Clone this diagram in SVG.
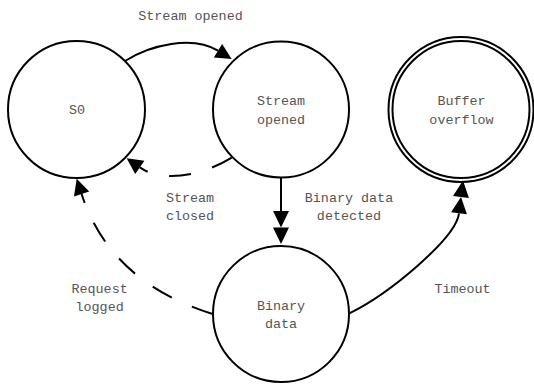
<svg xmlns="http://www.w3.org/2000/svg" width="534" height="384" viewBox="0 0 534 384">
<style>
.node circle{fill:none;stroke:#000;stroke-width:2}
text{font-family:"Liberation Mono","Courier New",monospace;font-size:13.4px;fill:#555;text-anchor:middle}
.edge{fill:none;stroke:#000;stroke-width:2}
.dash{stroke-dasharray:22 22}
</style>
<defs>
<marker id="arr" markerUnits="userSpaceOnUse" markerWidth="20" markerHeight="20" refX="0" refY="0" orient="auto" overflow="visible">
<path d="M0,-8 L16,0 L0,8 Z" fill="#000" stroke="none"/>
</marker>
<marker id="arr2" markerUnits="userSpaceOnUse" markerWidth="36" markerHeight="20" refX="0" refY="0" orient="auto" overflow="visible">
<path d="M0,-8 L16.5,0 L0,8 Z M16.5,-8 L33,0 L16.5,8 Z" fill="#000" stroke="none"/>
</marker>
</defs>
<rect width="534" height="384" fill="#fff"/>
<g id="edges">
<path class="edge" d="M125,61 C150.2,44.8 192.5,35.1 218,50.7" marker-end="url(#arr)"/>
<text x="190.5" y="20">Stream opened</text>
<path class="edge dash" d="M231.7,157.7 C206.2,173.6 164.4,184.5 139.8,167.4" marker-end="url(#arr)"/>
<text x="190" y="201.5">Stream</text>
<text x="190" y="220">closed</text>
<path class="edge" d="M281,177.5 L281,211" marker-end="url(#arr2)"/>
<text x="349" y="201.5">Binary data</text>
<text x="349" y="220">detected</text>
<path class="edge dash" d="M212.7,314 Q110,282 81.6,194" marker-end="url(#arr)"/>
<text x="99.6" y="292.5">Request</text>
<text x="99.6" y="311">logged</text>
<path class="edge" d="M349.3,313.3 C389.8,293.5 456,238 459,213.3" marker-end="url(#arr2)"/>
<text x="462.5" y="292.5">Timeout</text>
</g>
<g id="S0" class="node">
<circle cx="76.5" cy="109.5" r="68.5"/>
<text x="77" y="113.5">S0</text>
</g>
<g id="StreamOpened" class="node">
<circle cx="281" cy="109.5" r="68"/>
<text x="281" y="105">Stream</text>
<text x="281" y="123.6">opened</text>
</g>
<g id="BufferOverflow" class="node">
<circle cx="461" cy="109.5" r="68.5"/>
<circle cx="461" cy="109.5" r="72.5"/>
<text x="461.5" y="105">Buffer</text>
<text x="461.5" y="123.6">overflow</text>
</g>
<g id="BinaryData" class="node">
<circle cx="281" cy="314" r="68"/>
<text x="281" y="309.5">Binary</text>
<text x="281" y="328">data</text>
</g>
</svg>
